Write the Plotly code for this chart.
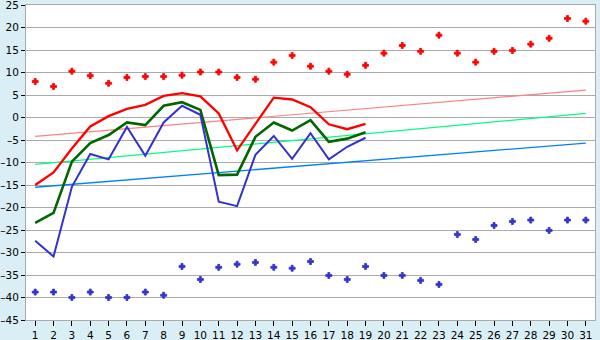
import plotly.graph_objects as go

days = list(range(1, 32))
days_obs = list(range(1, 20))

max_pts = [8.0, 6.9, 10.3, 9.3, 7.6, 8.9, 9.1, 9.1, 9.4, 10.1, 10.1, 8.9, 8.5, 12.3, 13.8, 11.4,
           10.3, 9.6, 11.6, 14.3, 16.0, 14.7, 18.3, 14.3, 12.3, 14.7, 14.9, 16.3, 17.6, 22.0, 21.4]
min_pts = [-38.8, -38.8, -40.0, -38.8, -40.0, -40.0, -38.8, -39.5, -33.1, -36.0, -33.3, -32.6, -32.2,
           -33.3, -33.5, -32.0, -35.1, -36.0, -33.1, -35.1, -35.1, -36.2, -37.1, -26.0, -27.1, -24.0,
           -23.1, -22.8, -25.1, -22.8, -22.8]

t_max = [-15.0, -12.2, -6.9, -2.0, 0.3, 1.9, 2.8, 4.8, 5.4, 4.7, 0.9, -7.3, -1.4, 4.4, 4.0, 2.3, -1.5, -2.6, -1.4]
t_mean = [-23.4, -21.2, -9.8, -5.7, -3.9, -1.1, -1.7, 2.6, 3.4, 1.7, -12.8, -12.7, -4.3, -1.1, -2.9, -0.6, -5.4, -4.7, -3.3]
t_min = [-27.4, -30.9, -15.4, -8.1, -9.3, -2.1, -8.5, -1.1, 2.6, 0.6, -18.7, -19.7, -8.3, -4.1, -9.2, -3.5, -9.3, -6.5, -4.5]

norm_days = [1, 31]
norm_max = [-4.2, 6.1]
norm_mean = [-10.4, 0.9]
norm_min = [-15.5, -5.7]

y_ticks = list(range(-45, 30, 5))
y_text = [str(v).replace("-", "\u2013") for v in y_ticks]

fig = go.Figure()
fig.add_trace(go.Scatter(x=norm_days, y=norm_max, mode="lines", line=dict(color="#ff8080", width=1.2)))
fig.add_trace(go.Scatter(x=norm_days, y=norm_mean, mode="lines", line=dict(color="#00ff80", width=1.3)))
fig.add_trace(go.Scatter(x=norm_days, y=norm_min, mode="lines", line=dict(color="#0080ff", width=1.3)))
fig.add_trace(go.Scatter(x=days_obs, y=t_max, mode="lines", line=dict(color="#ff0000", width=2.3)))
fig.add_trace(go.Scatter(x=days_obs, y=t_mean, mode="lines", line=dict(color="#006600", width=2.6)))
fig.add_trace(go.Scatter(x=days_obs, y=t_min, mode="lines", line=dict(color="#3333cc", width=2)))
fig.add_trace(go.Scatter(x=days, y=max_pts, mode="markers",
                         marker=dict(symbol="cross", size=5, color="#ff0000",
                                     line=dict(color="#ff0000", width=0.8))))
fig.add_trace(go.Scatter(x=days, y=min_pts, mode="markers",
                         marker=dict(symbol="cross", size=5, color="#3333cc",
                                     line=dict(color="#3333cc", width=0.8))))

fig.update_layout(
    width=600, height=340,
    margin=dict(l=26, r=5, t=5, b=20),
    paper_bgcolor="#d9eff5",
    plot_bgcolor="#ffffff",
    showlegend=False,
    font=dict(family="DejaVu Sans", size=10, color="#000000"),
)
fig.update_xaxes(
    range=[0.5, 31.5], tickmode="array", tickvals=days, ticktext=[str(d) for d in days],
    showgrid=False, zeroline=False, showline=True, linecolor="#aaaaaa", linewidth=1, mirror=True,
    ticks="outside", ticklen=5, tickcolor="#000000", tickfont=dict(size=10.5),
    ticklabeloverflow="allow", automargin=False,
)
fig.update_yaxes(
    range=[-45, 25], tickmode="array", tickvals=y_ticks, ticktext=y_text,
    showgrid=True, gridcolor="#aaaaaa", gridwidth=1, zeroline=False,
    showline=True, linecolor="#aaaaaa", linewidth=1, mirror=True,
    ticks="outside", ticklen=4, tickcolor="#000000", tickfont=dict(size=10.5),
    ticklabeloverflow="allow", automargin=False,
)
fig.write_html("out.html")
